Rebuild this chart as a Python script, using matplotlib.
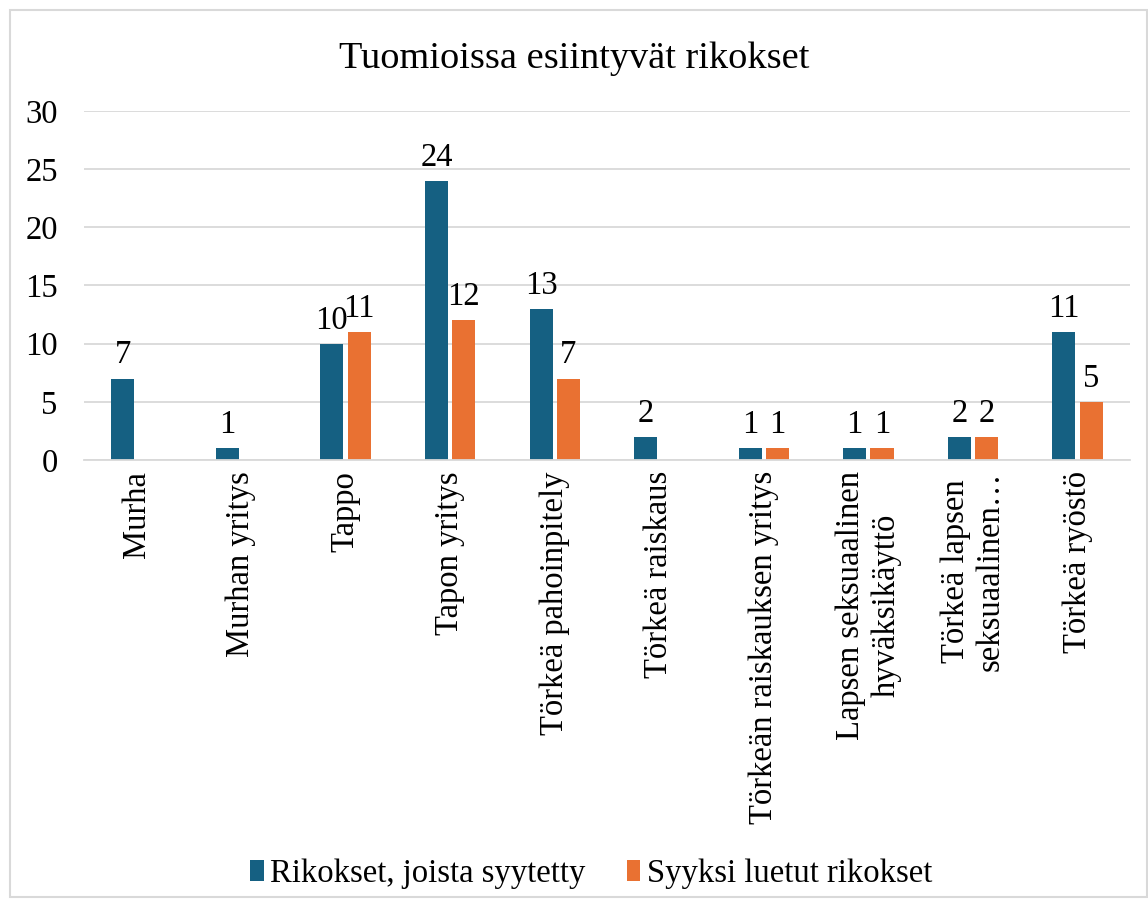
import matplotlib.pyplot as plt
import numpy as np
from matplotlib.patches import Rectangle

# data
categories = ['Murha', 'Murhan yritys', 'Tappo', 'Tapon yritys', 'Törkeä pahoinpitely',
              'Törkeä raiskaus', 'Törkeän raiskauksen yritys',
              'Lapsen seksuaalinen\nhyväksikäyttö', 'Törkeä lapsen\nseksuaalinen…', 'Törkeä ryöstö']
syytetty = [7, 1, 10, 24, 13, 2, 1, 1, 2, 11]
syyksi = [0, 0, 11, 12, 7, 0, 1, 1, 2, 5]
series_names = ['Rikokset, joista syytetty', 'Syyksi luetut rikokset']
yticks = [0, 5, 10, 15, 20, 25, 30]

blue = '#156082'
orange = '#E97132'

plt.rcParams['font.family'] = ['Liberation Serif', 'DejaVu Serif']
fs = 23.5

fig = plt.figure(figsize=(11.48, 9.02), dpi=100)
ax = fig.add_axes([0.0732, 0.49, 0.911, 0.387])

x = np.arange(len(categories))
w = 0.22
gap = 0.02
b1 = ax.bar(x - w/2 - gap, syytetty, w, color=blue, label=series_names[0])
b2 = ax.bar(x + w/2 + gap, syyksi, w, color=orange, label=series_names[1])

for bars, vals in [(b1, syytetty), (b2, syyksi)]:
    for r, v in zip(bars, vals):
        if v > 0:
            ax.text(r.get_x() + r.get_width()/2, v + 0.7, str(v), ha='center', va='bottom', fontsize=fs)

ax.set_ylim(0, 30)
ax.set_xlim(-0.5, len(categories) - 0.5)
ax.set_yticks(yticks)
ax.set_xticks(x)
ax.set_xticklabels(categories, rotation=90, fontsize=fs, multialignment='center')
ax.tick_params(axis='y', labelsize=fs, length=0, pad=19)
ax.tick_params(axis='x', length=0, pad=8)
ax.grid(axis='y', color='#d9d9d9', linewidth=1.3)
ax.set_axisbelow(True)
for s in ['top', 'right', 'left']:
    ax.spines[s].set_visible(False)
ax.spines['bottom'].set_color('#d9d9d9')
ax.spines['bottom'].set_linewidth(1.3)

fig.suptitle('Tuomioissa esiintyvät rikokset', fontsize=27.6, y=0.954)

fig.legend(loc='lower center', bbox_to_anchor=(0.515, -0.018), ncol=2, frameon=False,
           fontsize=fs, handlelength=0.42, handleheight=0.6, handletextpad=0.2, columnspacing=1.25)

fig.add_artist(Rectangle((0.009, 0.005), 0.99, 0.984, transform=fig.transFigure,
                         fill=False, edgecolor='#d9d9d9', linewidth=1.5))

plt.savefig('out.png', dpi=100)
